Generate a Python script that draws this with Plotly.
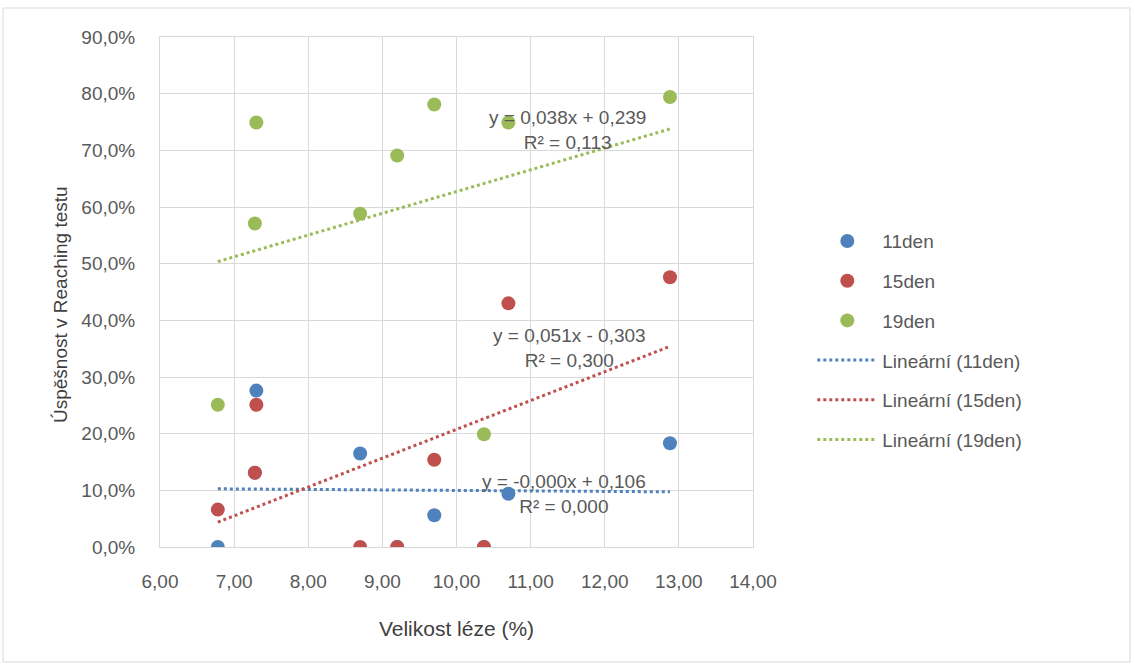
import numpy as np
import plotly.graph_objects as go

# Lesion size (%) per subject
x_vals = [6.78, 7.28, 7.30, 8.70, 9.20, 9.70, 10.37, 10.70, 12.88]

# Success rate in Reaching test (fraction)
y_11den = [0.000, 0.131, 0.276, 0.165, 0.000, 0.056, 0.000, 0.094, 0.183]
y_15den = [0.066, 0.131, 0.251, 0.000, 0.000, 0.154, 0.000, 0.430, 0.476]
y_19den = [0.251, 0.571, 0.749, 0.588, 0.691, 0.781, 0.199, 0.749, 0.794]

series_names = ["11den", "15den", "19den"]
trend_names = ["Lineární (11den)", "Lineární (15den)", "Lineární (19den)"]
colors = ["#4F81BD", "#C0504D", "#9BBB59"]

eq_labels = [
    "y = -0,000x + 0,106<br>R² = 0,000",
    "y = 0,051x - 0,303<br>R² = 0,300",
    "y = 0,038x + 0,239<br>R² = 0,113",
]
eq_pos_x = [11.45, 11.53, 11.50]
eq_pos_y = [0.094, 0.352, 0.736]

x_ticks = [6, 7, 8, 9, 10, 11, 12, 13, 14]
y_ticks = [0.0, 0.1, 0.2, 0.3, 0.4, 0.5, 0.6, 0.7, 0.8, 0.9]

FONT = "Liberation Sans, Arial, sans-serif"
TXT = "#595959"

fig = go.Figure()
ys = [y_11den, y_15den, y_19den]

for i, (name, y, c) in enumerate(zip(series_names, ys, colors)):
    fig.add_trace(go.Scatter(
        x=x_vals, y=y, mode="markers", name=name,
        marker=dict(color=c, size=14, line=dict(width=0)),
        legendgroup=f"g{i}", legendrank=i + 1,
    ))

for i, (name, y, c) in enumerate(zip(trend_names, ys, colors)):
    slope, intercept = np.polyfit(x_vals, y, 1)
    xs = np.array([min(x_vals), max(x_vals)])
    fig.add_trace(go.Scatter(
        x=xs, y=slope * xs + intercept, mode="lines", name=name,
        line=dict(color=c, width=3, dash="dot"),
        legendgroup=f"t{i}", legendrank=4 + i,
    ))

for txt, ex, ey in zip(eq_labels, eq_pos_x, eq_pos_y):
    fig.add_annotation(x=ex, y=ey, text=txt, showarrow=False,
                       font=dict(family=FONT, size=19, color=TXT),
                       align="center", xanchor="center", yanchor="middle")

# Y axis title (placed like the original, slightly below plot centre)
fig.add_annotation(xref="paper", yref="paper", x=-100 / 593, y=(547 - 305) / 510,
                   text="Úspěšnost v Reaching testu", textangle=-90, showarrow=False,
                   font=dict(family=FONT, size=19, color="#404040"),
                   xanchor="center", yanchor="middle")

# Outer chart border
fig.add_shape(type="rect", xref="paper", yref="paper",
              x0=-157 / 593, x1=1130 / 593 - 160 / 593,
              y0=-(664 - 547 - 2) / 510, y1=1 + 29 / 510,
              line=dict(color="#D9D9D9", width=1), layer="below")

fig.update_layout(
    width=1135, height=664,
    margin=dict(l=160, r=382, t=37, b=117),
    paper_bgcolor="white", plot_bgcolor="white",
    separators=", ",
    font=dict(family=FONT, size=19, color=TXT),
    showlegend=True,
    legend=dict(x=1.10, y=0.637, xanchor="left", yanchor="top",
                font=dict(family=FONT, size=19, color=TXT),
                tracegroupgap=12, itemwidth=60,
                bgcolor="rgba(0,0,0,0)"),
    xaxis=dict(range=[6, 14], tickvals=x_ticks, tickformat=".2f",
               showgrid=True, gridcolor="#D9D9D9", gridwidth=1,
               showline=True, linecolor="#D9D9D9", mirror=True,
               zeroline=False, ticks="", ticklen=0,
               ticklabelstandoff=17,
               tickfont=dict(size=19, color=TXT),
               title=dict(text="Velikost léze (%)", font=dict(size=21, color="#404040"),
                          standoff=30)),
    yaxis=dict(range=[0, 0.9], tickvals=y_ticks, tickformat=".1%",
               showgrid=True, gridcolor="#D9D9D9", gridwidth=1,
               showline=True, linecolor="#D9D9D9", mirror=True,
               zeroline=False, ticks="", ticklen=0,
               ticklabelstandoff=20,
               tickfont=dict(size=19, color=TXT)),
)

fig.write_html("out.html")
